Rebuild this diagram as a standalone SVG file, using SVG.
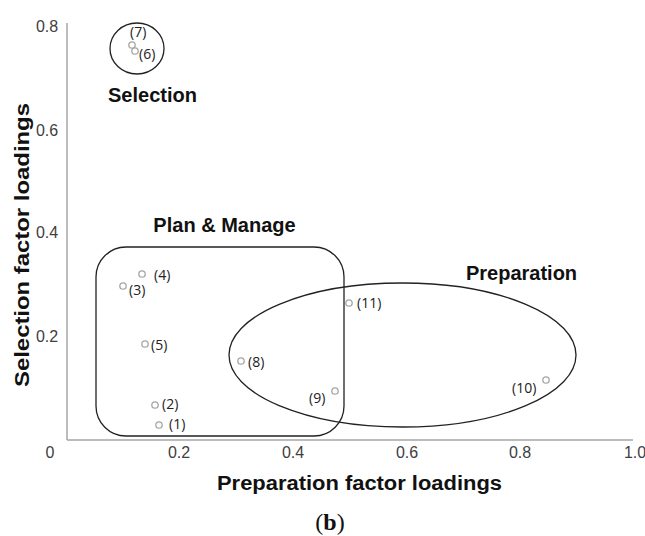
<svg xmlns="http://www.w3.org/2000/svg" width="645" height="536" viewBox="0 0 645 536">
<style>
.tick{font-family:"Liberation Sans",Arial,sans-serif;font-size:16px;fill:#404040}
.title{font-family:"Liberation Sans",Arial,sans-serif;font-size:20px;font-weight:bold;fill:#111}
.lab{font-family:"Open Sans","Liberation Sans",sans-serif;font-size:14px;fill:#222}
.pt{fill:none;stroke:#a6a6a6;stroke-width:1.3}
.grp{fill:none;stroke:#222;stroke-width:1.3}
.axis{stroke:#a6a6a6;stroke-width:1.5}
</style>
<rect width="645" height="536" fill="#fff"/>
<g id="axes">
<line class="axis" x1="67" y1="23" x2="67" y2="440"/>
<line class="axis" x1="67" y1="440" x2="633" y2="440"/>
<text class="tick" x="50" y="458" text-anchor="middle">0</text>
<text class="tick" x="179" y="458" text-anchor="middle">0.2</text>
<text class="tick" x="293" y="458" text-anchor="middle">0.4</text>
<text class="tick" x="407" y="458" text-anchor="middle">0.6</text>
<text class="tick" x="520" y="458" text-anchor="middle">0.8</text>
<text class="tick" x="635" y="458" text-anchor="middle">1.0</text>
<text class="tick" x="47" y="32" text-anchor="middle">0.8</text>
<text class="tick" x="47" y="136" text-anchor="middle">0.6</text>
<text class="tick" x="47" y="238" text-anchor="middle">0.4</text>
<text class="tick" x="47" y="342" text-anchor="middle">0.2</text>
<text class="title" x="359.5" y="490" text-anchor="middle" textLength="285" lengthAdjust="spacingAndGlyphs">Preparation factor loadings</text>
<text class="title" transform="translate(29,245) rotate(-90)" text-anchor="middle" textLength="284" lengthAdjust="spacingAndGlyphs">Selection factor loadings</text>
</g>
<g id="selection">
<ellipse class="grp" cx="137" cy="48.5" rx="27" ry="25.5"/>
<text class="title" x="152.5" y="102" text-anchor="middle">Selection</text>
</g>
<g id="plan-manage">
<rect class="grp" x="96" y="247" width="248" height="189" rx="30" ry="30"/>
<text class="title" x="224.5" y="232" text-anchor="middle">Plan &amp; Manage</text>
</g>
<g id="preparation">
<ellipse class="grp" cx="402.5" cy="355" rx="173.5" ry="72"/>
<text class="title" x="521.5" y="280" text-anchor="middle">Preparation</text>
</g>
<g id="points">
<circle class="pt" cx="132" cy="45" r="3.2"/><text class="lab" x="130" y="37">(7)</text>
<circle class="pt" cx="135" cy="51" r="3.2"/><text class="lab" x="139" y="59">(6)</text>
<circle class="pt" cx="142" cy="274" r="3.2"/><text class="lab" x="154" y="280">(4)</text>
<circle class="pt" cx="123" cy="286" r="3.2"/><text class="lab" x="129" y="295">(3)</text>
<circle class="pt" cx="145" cy="344" r="3.2"/><text class="lab" x="151" y="350">(5)</text>
<circle class="pt" cx="241" cy="361" r="3.2"/><text class="lab" x="248" y="367">(8)</text>
<circle class="pt" cx="335" cy="391" r="3.2"/><text class="lab" x="309" y="403">(9)</text>
<circle class="pt" cx="155" cy="405" r="3.2"/><text class="lab" x="162" y="409">(2)</text>
<circle class="pt" cx="159" cy="425" r="3.2"/><text class="lab" x="169" y="429">(1)</text>
<circle class="pt" cx="349" cy="303" r="3.2"/><text class="lab" x="357" y="308">(11)</text>
<circle class="pt" cx="546" cy="380" r="3.2"/><text class="lab" x="512" y="393">(10)</text>
</g>
<text x="330" y="530" text-anchor="middle" style="font-family:'Liberation Serif','Times New Roman',serif;font-size:24px;fill:#111">(<tspan font-weight="bold">b</tspan>)</text>
</svg>
